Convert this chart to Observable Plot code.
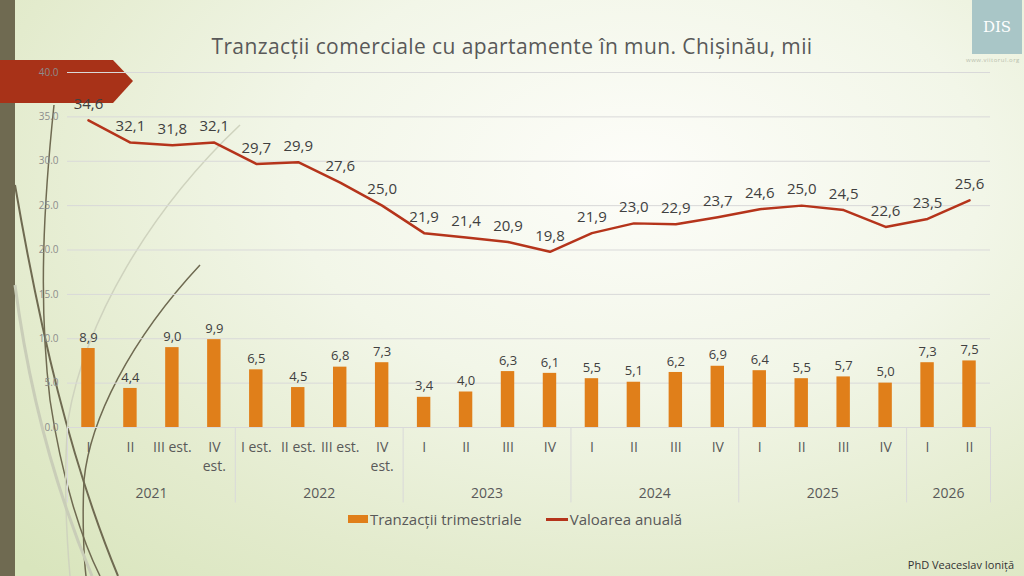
<!DOCTYPE html>
<html>
<head>
<meta charset="utf-8">
<script src="https://cdn.jsdelivr.net/npm/d3@7"></script>
<script src="https://cdn.jsdelivr.net/npm/@observablehq/plot@0.6"></script>
<style>
  html, body { margin:0; padding:0; }
  body { width:1024px; height:576px; overflow:hidden; font-family:"Open Sans", "DejaVu Sans", sans-serif; }
  #frame { position:relative; width:1024px; height:576px; overflow:hidden;
    background: radial-gradient(ellipse 85% 95% at 62% 30%, #fdfdf9 0%, #f2f6e8 40%, #e3ebcd 75%, #d9e5bd 100%); }
  #deco { position:absolute; left:0; top:0; z-index:0; }
  #banner { position:absolute; left:0; top:60px; width:133px; height:43px; background:#a83218;
    clip-path: polygon(0 0, 113px 0, 133px 21px, 113px 43px, 0 43px); z-index:1; }
  #chart { position:absolute; left:0; top:0; z-index:2; }
  #title { position:absolute; top:32px; left:0; width:1024px; text-align:center; font-size:21px; color:#595959; z-index:3; letter-spacing:0.4px; }
  #legend { position:absolute; top:509px; left:0; width:1024px; display:flex; justify-content:center; align-items:center; font-size:15px; color:#595959; z-index:3; padding-left:6px; box-sizing:border-box; }
  .sw { display:inline-block; margin-right:2px; }
  #credit { position:absolute; right:10px; top:557px; font-size:11px; color:#333; z-index:3; }
  #logo { position:absolute; left:972px; top:0; width:50px; height:54px; background:#a9c6c7; z-index:3; color:#fff; text-align:center; font-size:15px; line-height:54px; font-family:"DejaVu Serif", serif; }
  #logourl { position:absolute; left:966px; top:56px; font-size:6px; color:#b9bfae; z-index:3; letter-spacing:0.5px; }
</style>
</head>
<body>
<div id="frame">
  <svg id="deco" width="1024" height="576">
    <rect x="0" y="0" width="15" height="576" fill="#6f6a51"/>
    <path d="M15,185 C40,330 70,460 118,576" fill="none" stroke="#6f6a51" stroke-width="2"/>
    <path d="M54,105 C44,200 38,300 50,400 C62,480 82,540 100,576" fill="none" stroke="#6f6a51" stroke-width="1.5"/>
    <path d="M200,265 C130,340 90,420 84,480 C82,520 84,560 86,576" fill="none" stroke="#6f6a51" stroke-width="1.5"/>
    <path d="M240,125 C150,210 85,320 68,420 C64,470 66,530 70,576" fill="none" stroke="#cfd3be" stroke-width="1.5"/>
    <path d="M15,285 C30,400 60,500 92,576" fill="none" stroke="#c9cdb8" stroke-width="3"/>
  </svg>
  <div id="banner"></div>
  <div id="chart"></div>
  <div id="title">Tranzacții comerciale cu apartamente în mun. Chișinău, mii</div>
  <div id="legend">
    <span class="sw" style="width:20px;height:8px;background:#e07f1a;"></span><span>Tranzacții trimestriale</span>
    <span class="sw" style="width:22px;height:3px;background:#b5341b;margin-left:24px;"></span><span>Valoarea anuală</span>
  </div>
  <div id="credit">PhD Veaceslav Ioniță</div>
  <div id="logo">DIS</div>
  <div id="logourl">www.viitorul.org</div>
</div>
<script>
const quarterLabels = ["I","II","III est.","IV\nest.","I est.","II est.","III est.","IV\nest.",
  "I","II","III","IV","I","II","III","IV","I","II","III","IV","I","II"];
const quarterYears = ["2021","2021","2021","2021","2022","2022","2022","2022",
  "2023","2023","2023","2023","2024","2024","2024","2024","2025","2025","2025","2025","2026","2026"];
const tranzactiiTrimestriale = [8.9,4.4,9.0,9.9,6.5,4.5,6.8,7.3,3.4,4.0,6.3,6.1,5.5,5.1,6.2,6.9,6.4,5.5,5.7,5.0,7.3,7.5];
const valoareaAnuala = [34.6,32.1,31.8,32.1,29.7,29.9,27.6,25.0,21.9,21.4,20.9,19.8,21.9,23.0,22.9,23.7,24.6,25.0,24.5,22.6,23.5,25.6];
const yTicks = [0,5,10,15,20,25,30,35,40];

const data = quarterLabels.map((q, i) => ({i, q, year: quarterYears[i], bar: tranzactiiTrimestriale[i], line: valoareaAnuala[i]}));
const groups = d3.groups(data, d => d.year).map(([year, arr]) => ({
  year, mid: d3.mean(arr, d => d.i), start: arr[0].i - 0.5, end: arr[arr.length - 1].i + 0.5
}));
const separators = Array.from(new Set(groups.flatMap(g => [g.start, g.end])));
const fmt = v => d3.format(".1f")(v).replace(".", ",");
const half = 0.16;
const font = "'Open Sans', 'DejaVu Sans', sans-serif";

const chart = Plot.plot({
  width: 1024, height: 576,
  marginLeft: 67, marginRight: 34, marginTop: 72, marginBottom: 149,
  x: {type: "linear", domain: [-0.5, quarterLabels.length - 0.5], axis: null},
  y: {domain: [0, 40], axis: null},
  style: {background: "transparent", fontFamily: font, overflow: "visible"},
  marks: [
    Plot.gridY(yTicks, {stroke: "#d9d9d9", strokeOpacity: 1}),
    Plot.axisY(yTicks, {tickFormat: d3.format(".1f"), tickSize: 0, tickPadding: 9, fontSize: 10, fill: "#8c8c8c", label: null}),
    Plot.ruleX(separators, {x: d => d, y1: () => 0, y2: () => -8.5, stroke: "#d9d9d9"}),
    Plot.rectY(data, {x1: d => d.i - half, x2: d => d.i + half, y: "bar", fill: "#e07f1a"}),
    Plot.text(data, {x: "i", y: "bar", text: d => fmt(d.bar), dy: -11, fontSize: 13, fill: "#404040"}),
    Plot.lineY(data, {x: "i", y: "line", stroke: "#b5341b", strokeWidth: 2.5}),
    Plot.text(data, {x: "i", y: "line", text: d => fmt(d.line), dy: -16, fontSize: 15, fill: "#404040"}),
    Plot.text(data, {x: "i", y: () => 0, text: "q", lineAnchor: "top", dy: 12, fontSize: 14, lineHeight: 1.3, fill: "#595959"}),
    Plot.text(groups, {x: "mid", y: () => 0, text: "year", dy: 66, fontSize: 14, fill: "#595959"})
  ]
});
document.getElementById("chart").appendChild(chart);
</script>
</body>
</html>
